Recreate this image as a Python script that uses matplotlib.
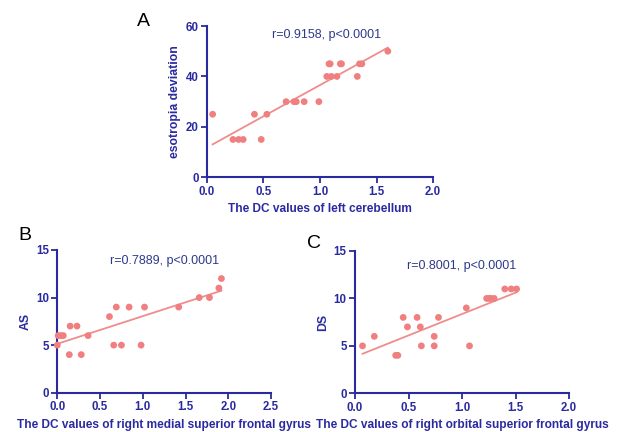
import numpy as np
import matplotlib
matplotlib.use("Agg")
import matplotlib.pyplot as plt

plt.rcParams["font.family"] = ["Liberation Sans", "DejaVu Sans"]

NAVY = "#2a2aa0"
TXT = "#2e3a8c"
DOT = "#f08080"
LINE = "#f08c8c"

# panel A: esotropia deviation vs left cerebellum DC
a_x = [0.05, 0.23, 0.28, 0.32, 0.42, 0.48, 0.53, 0.70, 0.77, 0.79, 0.86, 0.99,
       1.06, 1.08, 1.09, 1.10, 1.15, 1.18, 1.19, 1.33, 1.35, 1.37, 1.60]
a_y = [25, 15, 15, 15, 25, 15, 25, 30, 30, 30, 30, 30,
       40, 45, 45, 40, 40, 45, 45, 40, 45, 45, 50]

# panel B: AS vs right medial superior frontal gyrus DC
b_x = [0.00, 0.01, 0.04, 0.07, 0.14, 0.15, 0.23, 0.28, 0.36, 0.61, 0.66, 0.69,
       0.75, 0.84, 0.98, 1.02, 1.42, 1.66, 1.78, 1.89, 1.92]
b_y = [5, 6, 6, 6, 4, 7, 7, 4, 6, 8, 5, 9,
       5, 9, 5, 9, 9, 10, 10, 11, 12]

# panel C: DS vs right orbital superior frontal gyrus DC
c_x = [0.07, 0.18, 0.38, 0.40, 0.45, 0.49, 0.58, 0.61, 0.62, 0.74, 0.74, 0.78,
       1.04, 1.07, 1.23, 1.25, 1.27, 1.30, 1.40, 1.46, 1.51]
c_y = [5, 6, 4, 4, 8, 7, 8, 7, 5, 6, 5, 8,
       9, 5, 10, 10, 10, 10, 11, 11, 11]

panels = [
    dict(x=a_x, y=a_y, rect=[0.3333, 0.5896, 0.3640, 0.3502], xlim=2.0, ylim=60,
         xticks=[0, 0.5, 1.0, 1.5, 2.0], yticks=[0, 20, 40, 60],
         xlabel="The DC values of left cerebellum", ylabel="esotropia deviation",
         note="r=0.9158, p<0.0001", note_xy=(1.06, 56.5), letter="A", letter_xy=(143, 21)),
    dict(x=b_x, y=b_y, rect=[0.0923, 0.0910, 0.3441, 0.3303], xlim=2.5, ylim=15,
         xticks=[0, 0.5, 1.0, 1.5, 2.0, 2.5], yticks=[0, 5, 10, 15],
         xlabel="The DC values of right medial superior frontal gyrus", ylabel="AS",
         note="r=0.7889, p<0.0001", note_xy=(1.26, 13.8), letter="B", letter_xy=(25, 235)),
    dict(x=c_x, y=c_y, rect=[0.5717, 0.0896, 0.3446, 0.3294], xlim=2.0, ylim=15,
         xticks=[0, 0.5, 1.0, 1.5, 2.0], yticks=[0, 5, 10, 15],
         xlabel="The DC values of right orbital superior frontal gyrus", ylabel="DS",
         note="r=0.8001, p<0.0001", note_xy=(1.0, 13.45), letter="C", letter_xy=(314, 243)),
]

fig = plt.figure(figsize=(6.21, 4.32), dpi=100)

for p in panels:
    ax = fig.add_axes(p["rect"])
    x = np.array(p["x"])
    y = np.array(p["y"])
    k, b = np.polyfit(x, y, 1)
    xs = np.array([x.min(), x.max()])
    ax.plot(xs, k * xs + b, color=LINE, lw=1.3, zorder=2)
    ax.scatter(x, y, s=24, color=DOT, edgecolors="none", zorder=3, clip_on=False)

    ax.set_xlim(0, p["xlim"])
    ax.set_ylim(0, p["ylim"])
    ax.set_xticks(p["xticks"])
    ax.set_xticklabels([f"{t:.1f}" for t in p["xticks"]])
    ax.set_yticks(p["yticks"])
    for s in ("top", "right"):
        ax.spines[s].set_visible(False)
    for s in ("left", "bottom"):
        ax.spines[s].set_color(NAVY)
        ax.spines[s].set_linewidth(1.5)
    ax.tick_params(colors=NAVY, width=1.3, length=4, labelsize=8.3, pad=2)
    for lab in ax.get_xticklabels() + ax.get_yticklabels():
        lab.set_fontweight("bold")
        lab.set_color(NAVY)
    ax.set_xlabel(p["xlabel"], fontsize=8.6, fontweight="bold", color=NAVY, labelpad=4)
    ax.set_ylabel(p["ylabel"], fontsize=8.8, fontweight="bold", color=NAVY, labelpad=3)
    ax.text(*p["note_xy"], p["note"], ha="center", va="center", fontsize=9, color=TXT)

    lx, ly = p["letter_xy"]
    fig.text(lx / 621, 1 - ly / 432, p["letter"], ha="center", va="center",
             fontsize=14, color="black")

fig.savefig("out.png", dpi=100)
